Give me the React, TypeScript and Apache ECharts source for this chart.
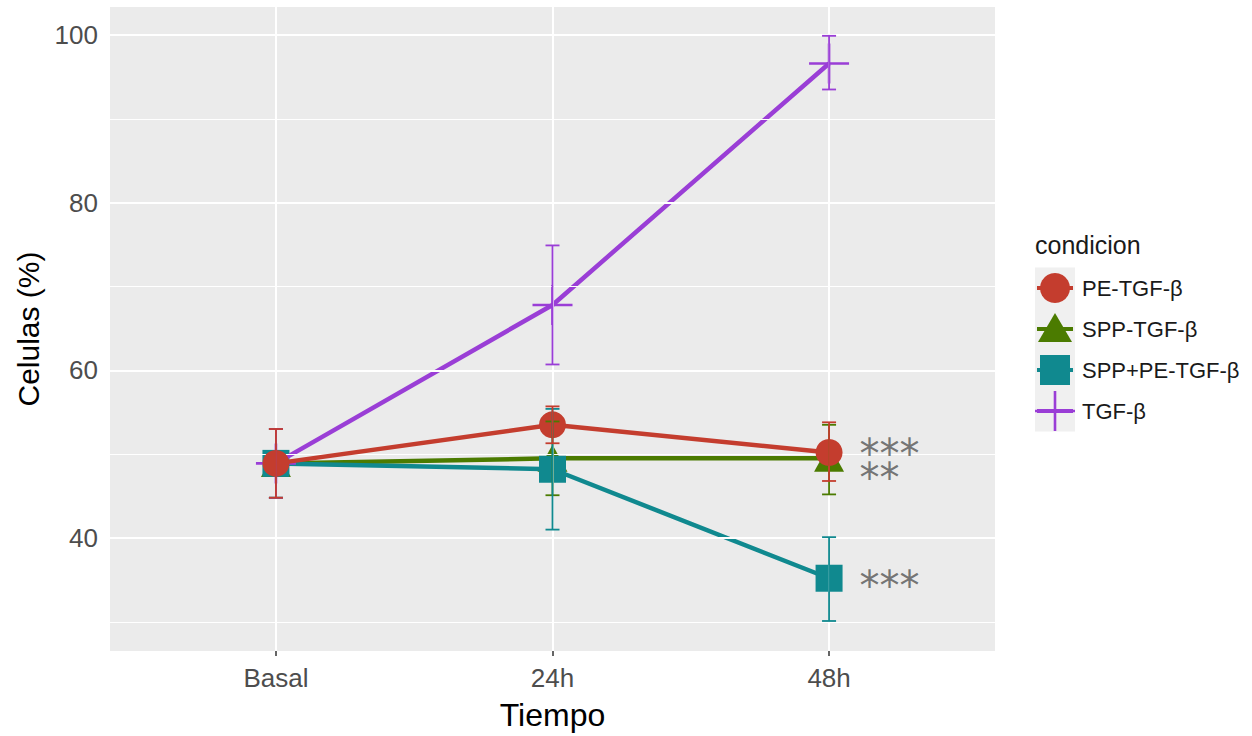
import React, { useEffect, useRef } from "react";
import * as echarts from "echarts";

// Time points and group names
const timePoints = ["Basal", "24h", "48h"];
const groupNames = ["PE-TGF-β", "SPP-TGF-β", "SPP+PE-TGF-β", "TGF-β"];
const groupColors = ["#C43D2E", "#4B7B00", "#10898F", "#9A3ED6"];

// Mean percentage of cells per group, with error-bar limits
const peMean = [48.9, 53.5, 50.2];
const peLow = [44.8, 51.3, 46.8];
const peHigh = [53.0, 55.7, 53.8];

const sppMean = [48.9, 49.5, 49.5];
const sppLow = [44.8, 45.1, 45.2];
const sppHigh = [53.0, 53.9, 53.5];

const sppPeMean = [48.9, 48.2, 35.2];
const sppPeLow = [44.8, 41.0, 30.1];
const sppPeHigh = [53.0, 55.4, 40.1];

const tgfMean = [48.9, 67.8, 96.6];
const tgfLow = [44.8, 60.7, 93.5];
const tgfHigh = [53.0, 74.9, 99.9];

// Significance marks next to the 48h points (PE / SPP stacked, then SPP+PE)
const sigX = [2.11, 2.11];
const sigY = [48.6, 34.3];
const sigText = ["***\n**", "***"];

// Axis ticks
const yMajor = [40, 60, 80, 100];
const yMinor = [30, 50, 70, 90];

const crossPath =
  "path://M-1.3,-20 L1.3,-20 L1.3,-1.3 L20,-1.3 L20,1.3 L1.3,1.3 L1.3,20 L-1.3,20 L-1.3,1.3 L-20,1.3 L-20,-1.3 L-1.3,-1.3 Z";

const means = [peMean, sppMean, sppPeMean, tgfMean];
const lows = [peLow, sppLow, sppPeLow, tgfLow];
const highs = [peHigh, sppHigh, sppPeHigh, tgfHigh];
const symbols = ["circle", "triangle", "rect", crossPath];
const symbolSizes = [27, [30, 27], 27, 40];
const zOrder = [5, 2, 3, 4];

export default function App() {
  const ref = useRef<HTMLDivElement>(null);

  useEffect(() => {
    if (!ref.current) return;
    const chart = echarts.init(ref.current, undefined, { renderer: "svg" });

    const lineSeries = groupNames.map((name, i) => ({
      name,
      type: "line",
      z: zOrder[i],
      data: means[i].map((v, k) => [k, v]),
      symbol: symbols[i],
      symbolSize: symbolSizes[i],
      showSymbol: true,
      lineStyle: { color: groupColors[i], width: 4.5 },
      itemStyle: { color: groupColors[i], opacity: 1 },
      emphasis: { disabled: true },
    }));

    const errorSeries = groupNames.map((name, i) => ({
      name: name + " error",
      type: "custom",
      z: zOrder[i] + 5,
      data: means[i].map((_, k) => [k, lows[i][k], highs[i][k]]),
      encode: { x: 0, y: [1, 2] },
      renderItem: (params: any, api: any) => {
        const x = api.value(0);
        const lo = api.coord([x, api.value(1)]);
        const hi = api.coord([x, api.value(2)]);
        const hw = 7;
        const style = { stroke: groupColors[i], lineWidth: 1.8 };
        return {
          type: "group",
          children: [
            { type: "line", shape: { x1: lo[0], y1: lo[1], x2: hi[0], y2: hi[1] }, style },
            { type: "line", shape: { x1: lo[0] - hw, y1: lo[1], x2: lo[0] + hw, y2: lo[1] }, style },
            { type: "line", shape: { x1: hi[0] - hw, y1: hi[1], x2: hi[0] + hw, y2: hi[1] }, style },
          ],
        };
      },
      silent: true,
    }));

    const gridLines = {
      type: "line",
      data: [],
      silent: true,
      z: 1,
      markLine: {
        silent: true,
        symbol: "none",
        label: { show: false },
        animation: false,
        data: [
          ...yMinor.map((v) => ({ yAxis: v, lineStyle: { color: "#FFFFFF", width: 1, type: "solid" } })),
          ...yMajor.map((v) => ({ yAxis: v, lineStyle: { color: "#FFFFFF", width: 2, type: "solid" } })),
          ...timePoints.map((_, k) => ({ xAxis: k, lineStyle: { color: "#FFFFFF", width: 2, type: "solid" } })),
        ],
      },
    };

    const sigSeries = {
      type: "scatter",
      z: 10,
      silent: true,
      symbolSize: 1,
      itemStyle: { color: "rgba(0,0,0,0)" },
      data: sigX.map((x, k) => [x, sigY[k], sigText[k]]),
      label: {
        show: true,
        position: "inside",
        align: "left",
        verticalAlign: "middle",
        lineHeight: 24,
        formatter: (p: any) => p.data[2],
        fontFamily: "DejaVu Sans",
        fontSize: 40,
        color: "#555555",
      },
    };

    // Legend drawn as graphic elements
    const lx = 1035;
    const rowY = [288, 329, 370, 411];
    const legendEls: any[] = [
      {
        type: "text",
        x: lx,
        y: 245,
        style: {
          text: "condicion",
          fontFamily: "Liberation Sans, Arial",
          fontSize: 25,
          fill: "#1A1A1A",
          verticalAlign: "middle",
        },
      },
      {
        type: "rect",
        shape: { x: lx, y: rowY[0] - 20.5, width: 40, height: 164 },
        style: { fill: "#F0F0F0" },
      },
    ];
    groupNames.forEach((name, i) => {
      const cx = lx + 20;
      const cy = rowY[i];
      const c = groupColors[i];
      legendEls.push({
        type: "line",
        shape: { x1: lx + 2, y1: cy, x2: lx + 38, y2: cy },
        style: { stroke: c, lineWidth: 4 },
      });
      if (i === 0) {
        legendEls.push({ type: "circle", shape: { cx, cy, r: 15 }, style: { fill: c } });
      } else if (i === 1) {
        legendEls.push({
          type: "polygon",
          shape: { points: [[cx, cy - 16], [cx + 17, cy + 13], [cx - 17, cy + 13]] },
          style: { fill: c },
        });
      } else if (i === 2) {
        legendEls.push({ type: "rect", shape: { x: cx - 15, y: cy - 15, width: 30, height: 30 }, style: { fill: c } });
      } else {
        legendEls.push({
          type: "line",
          shape: { x1: cx, y1: cy - 20, x2: cx, y2: cy + 20 },
          style: { stroke: c, lineWidth: 2.6 },
        });
        legendEls.push({
          type: "line",
          shape: { x1: cx - 20, y1: cy, x2: cx + 20, y2: cy },
          style: { stroke: c, lineWidth: 2.6 },
        });
      }
      legendEls.push({
        type: "text",
        x: lx + 47,
        y: cy,
        style: {
          text: name,
          fontFamily: "Liberation Sans, Arial",
          fontSize: 22,
          fill: "#1A1A1A",
          verticalAlign: "middle",
        },
      });
    });

    chart.setOption({
      animation: false,
      backgroundColor: "#FFFFFF",
      grid: {
        left: 110,
        top: 7,
        width: 885,
        height: 644,
        show: true,
        backgroundColor: "#EBEBEB",
        borderWidth: 0,
      },
      xAxis: {
        type: "value",
        min: -0.6,
        max: 2.6,
        name: "Tiempo",
        nameLocation: "middle",
        nameGap: 48,
        nameTextStyle: { fontFamily: "Liberation Sans, Arial", fontSize: 32, color: "#000000" },
        axisLine: { show: false },
        splitLine: { show: false },
        axisTick: {
          show: true,
          customValues: [0, 1, 2],
          length: 5,
          lineStyle: { color: "#333333", width: 1.5 },
        },
        axisLabel: {
          customValues: [0, 1, 2],
          formatter: (v: number) => timePoints[Math.round(v)] ?? "",
          fontFamily: "Liberation Sans, Arial",
          fontSize: 26,
          color: "#4D4D4D",
          margin: 14,
        },
      },
      yAxis: {
        type: "value",
        min: 26.52,
        max: 103.34,
        name: "Celulas (%)",
        nameLocation: "middle",
        nameGap: 66,
        nameTextStyle: { fontFamily: "Liberation Sans, Arial", fontSize: 30, color: "#000000" },
        axisLine: { show: false },
        splitLine: { show: false },
        axisTick: {
          show: true,
          customValues: yMajor,
          length: 5,
          lineStyle: { color: "#333333", width: 1.5 },
        },
        axisLabel: {
          customValues: yMajor,
          fontFamily: "Liberation Sans, Arial",
          fontSize: 26,
          color: "#4D4D4D",
          margin: 12,
        },
      },
      graphic: legendEls,
      series: [gridLines, ...lineSeries, ...errorSeries, sigSeries],
    });

    return () => chart.dispose();
  }, []);

  return (
    <div
      ref={ref}
      style={{ position: "fixed", left: 0, top: 0, width: 1252, height: 736 }}
    />
  );
}
